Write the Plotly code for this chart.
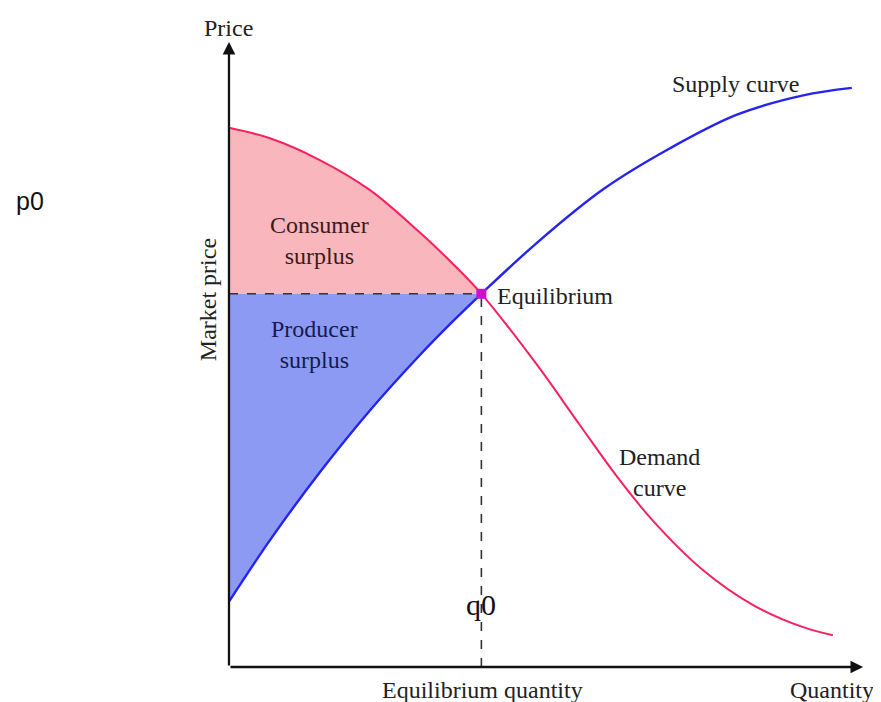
import plotly.graph_objects as go

# values (quantity 0..10, price 0..10)
demand_q = [0.0, 0.65, 1.44, 2.23, 3.03, 3.55, 4.0, 4.88, 5.56, 6.15, 6.72, 7.51, 8.30, 9.10, 9.57]
demand_p = [8.67, 8.50, 8.15, 7.67, 6.98, 6.48, 6.0, 4.86, 3.89, 3.06, 2.35, 1.56, 1.0, 0.64, 0.51]

supply_q = [0.0, 0.65, 1.44, 2.23, 3.03, 3.55, 4.0, 4.88, 5.93, 6.99, 8.05, 9.10, 9.87]
supply_p = [1.05, 2.04, 3.13, 4.12, 5.02, 5.56, 6.0, 6.82, 7.68, 8.34, 8.88, 9.19, 9.31]

q0 = 4.0
p0 = 6.0
eq_idx_d = demand_q.index(q0)
eq_idx_s = supply_q.index(q0)

SERIF = 'Liberation Serif, Times New Roman, serif'
TXT = '#222222'

fig = go.Figure()

# consumer surplus: between p0 and the demand curve
cs_q = demand_q[:eq_idx_d + 1]
fig.add_trace(go.Scatter(
    x=cs_q, y=[p0] * len(cs_q),
    mode='lines', line=dict(width=0), hoverinfo='skip'
))
fig.add_trace(go.Scatter(
    x=cs_q, y=demand_p[:eq_idx_d + 1],
    mode='lines', line=dict(width=0, shape='spline'),
    fill='tonexty', fillcolor='#f9b6bd', hoverinfo='skip'
))

# producer surplus: between the supply curve and p0
ps_q = supply_q[:eq_idx_s + 1]
fig.add_trace(go.Scatter(
    x=ps_q, y=[p0] * len(ps_q),
    mode='lines', line=dict(width=0), hoverinfo='skip'
))
fig.add_trace(go.Scatter(
    x=ps_q, y=supply_p[:eq_idx_s + 1],
    mode='lines', line=dict(width=0, shape='spline'),
    fill='tonexty', fillcolor='#8c9af4', hoverinfo='skip'
))

# dashed guides
fig.add_trace(go.Scatter(
    x=[0.0, q0], y=[p0, p0],
    mode='lines',
    line=dict(color='#333333', width=1.6, dash='dash')
))
fig.add_trace(go.Scatter(
    x=[q0, q0], y=[0.0, p0],
    mode='lines',
    line=dict(color='#333333', width=1.6, dash='dash')
))

fig.add_trace(go.Scatter(
    x=demand_q, y=demand_p,
    mode='lines',
    line=dict(color='#f7215f', width=2, shape='spline')
))
fig.add_trace(go.Scatter(
    x=supply_q, y=supply_p,
    mode='lines',
    line=dict(color='#2424ee', width=2.4, shape='spline')
))

fig.add_trace(go.Scatter(
    x=[q0], y=[p0],
    mode='markers',
    marker=dict(color='#cc11cc', size=10, symbol='square')
))

# axes with arrowheads
for head, tail in [((0, 10.05), (0, 0)), ((10.05, 0), (0, 0))]:
    fig.add_annotation(
        x=head[0], y=head[1], ax=tail[0], ay=tail[1],
        xref='x', yref='y', axref='x', ayref='y',
        showarrow=True, arrowhead=2, arrowsize=1.1,
        arrowwidth=2.3, arrowcolor='#111111', text=''
    )

labels = [
    ('Price', 0.0, 10.27, 'center', TXT),
    ('Consumer<br>surplus', 1.44, 6.86, 'center', '#3a1c1c'),
    ('Producer<br>surplus', 1.36, 5.18, 'center', '#151a4e'),
    ('Equilibrium', 4.22, 5.97, 'left', TXT),
    ('Supply curve', 8.02, 9.37, 'center', TXT),
    ('Demand<br>curve', 6.83, 3.13, 'center', TXT),
    ('Equilibrium quantity', 4.01, -0.37, 'center', TXT),
    ('Quantity', 10.25, -0.37, 'right', TXT),
]
for text, x, y, anchor, col in labels:
    fig.add_annotation(
        x=x, y=y, xref='x', yref='y', text=text, showarrow=False,
        xanchor=anchor, yanchor='middle',
        font=dict(family=SERIF, size=24, color=col)
    )

fig.add_annotation(
    x=-0.33, y=5.9, xref='x', yref='y', text='Market price',
    showarrow=False, textangle=-90,
    font=dict(family=SERIF, size=24, color=TXT)
)
fig.add_annotation(
    x=q0, y=1.0, xref='x', yref='y', text='q0', showarrow=False,
    font=dict(family=SERIF, size=30, color='#111111')
)
fig.add_annotation(
    x=-3.15, y=7.5, xref='x', yref='y', text='p0', showarrow=False,
    font=dict(family='Liberation Sans, Arial, sans-serif', size=25, color='#111111')
)

# page body adds 8px, so the figure is 873x694 and the ranges span the whole figure
fig.update_layout(
    width=873,
    height=694,
    margin=dict(l=0, r=0, t=0, b=0),
    plot_bgcolor='white',
    paper_bgcolor='white',
    showlegend=False,
    xaxis=dict(range=[-3.502, 10.333], visible=False),
    yaxis=dict(range=[-0.563, 10.595], visible=False)
)

fig.write_html('out.html')
